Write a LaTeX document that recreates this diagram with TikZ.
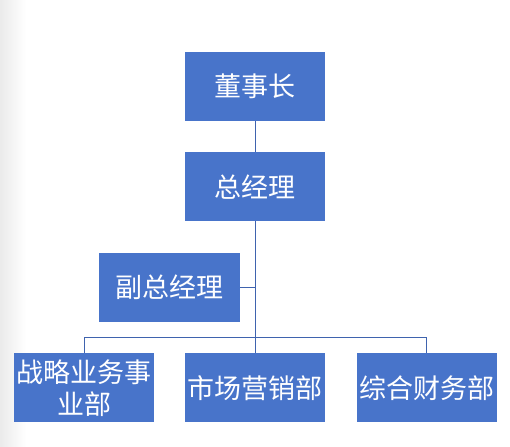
\documentclass[tikz,border=0pt]{standalone}
\usepackage{fontspec}
\newfontfamily\cjk{Noto Sans CJK SC}
\definecolor{boxblue}{HTML}{4874CA}
\definecolor{lineblue}{HTML}{3F63AE}
\begin{document}
\begin{tikzpicture}[x=1pt,y=-1pt,
  box/.style={fill=boxblue,draw=none,text=white,font=\cjk\fontsize{27}{32}\selectfont,
    minimum width=140pt,minimum height=69pt,inner sep=0pt,align=center,anchor=north west},
  conn/.style={draw=lineblue,line width=1pt}]
\useasboundingbox (0,0) rectangle (510,446);
\shade[left color=black!8,right color=white] (0,0) rectangle (26,446);
\node[box] (chair) at (185,52) {董事长};
\node[box] (gm) at (185,152) {总经理};
\node[box,minimum width=141pt] (vgm) at (99,253) {副总经理};
\node[box] (strat) at (14,353) {战略业务事\\业部};
\node[box] (mkt) at (185,353) {市场营销部};
\node[box] (fin) at (357,353) {综合财务部};
\coordinate (busL) at (84,337.5);
\coordinate (busR) at (426.5,337.5);
\draw[conn] (chair.south) -- (gm.north);
\draw[conn] (gm.south) -- (mkt.north);
\draw[conn] (vgm.east) -- (vgm.east -| gm.south);
\draw[conn] (busL) -- (busR);
\draw[conn] (busL) -- (busL |- strat.north);
\draw[conn] (busR) -- (busR |- fin.north);
\end{tikzpicture}
\end{document}
